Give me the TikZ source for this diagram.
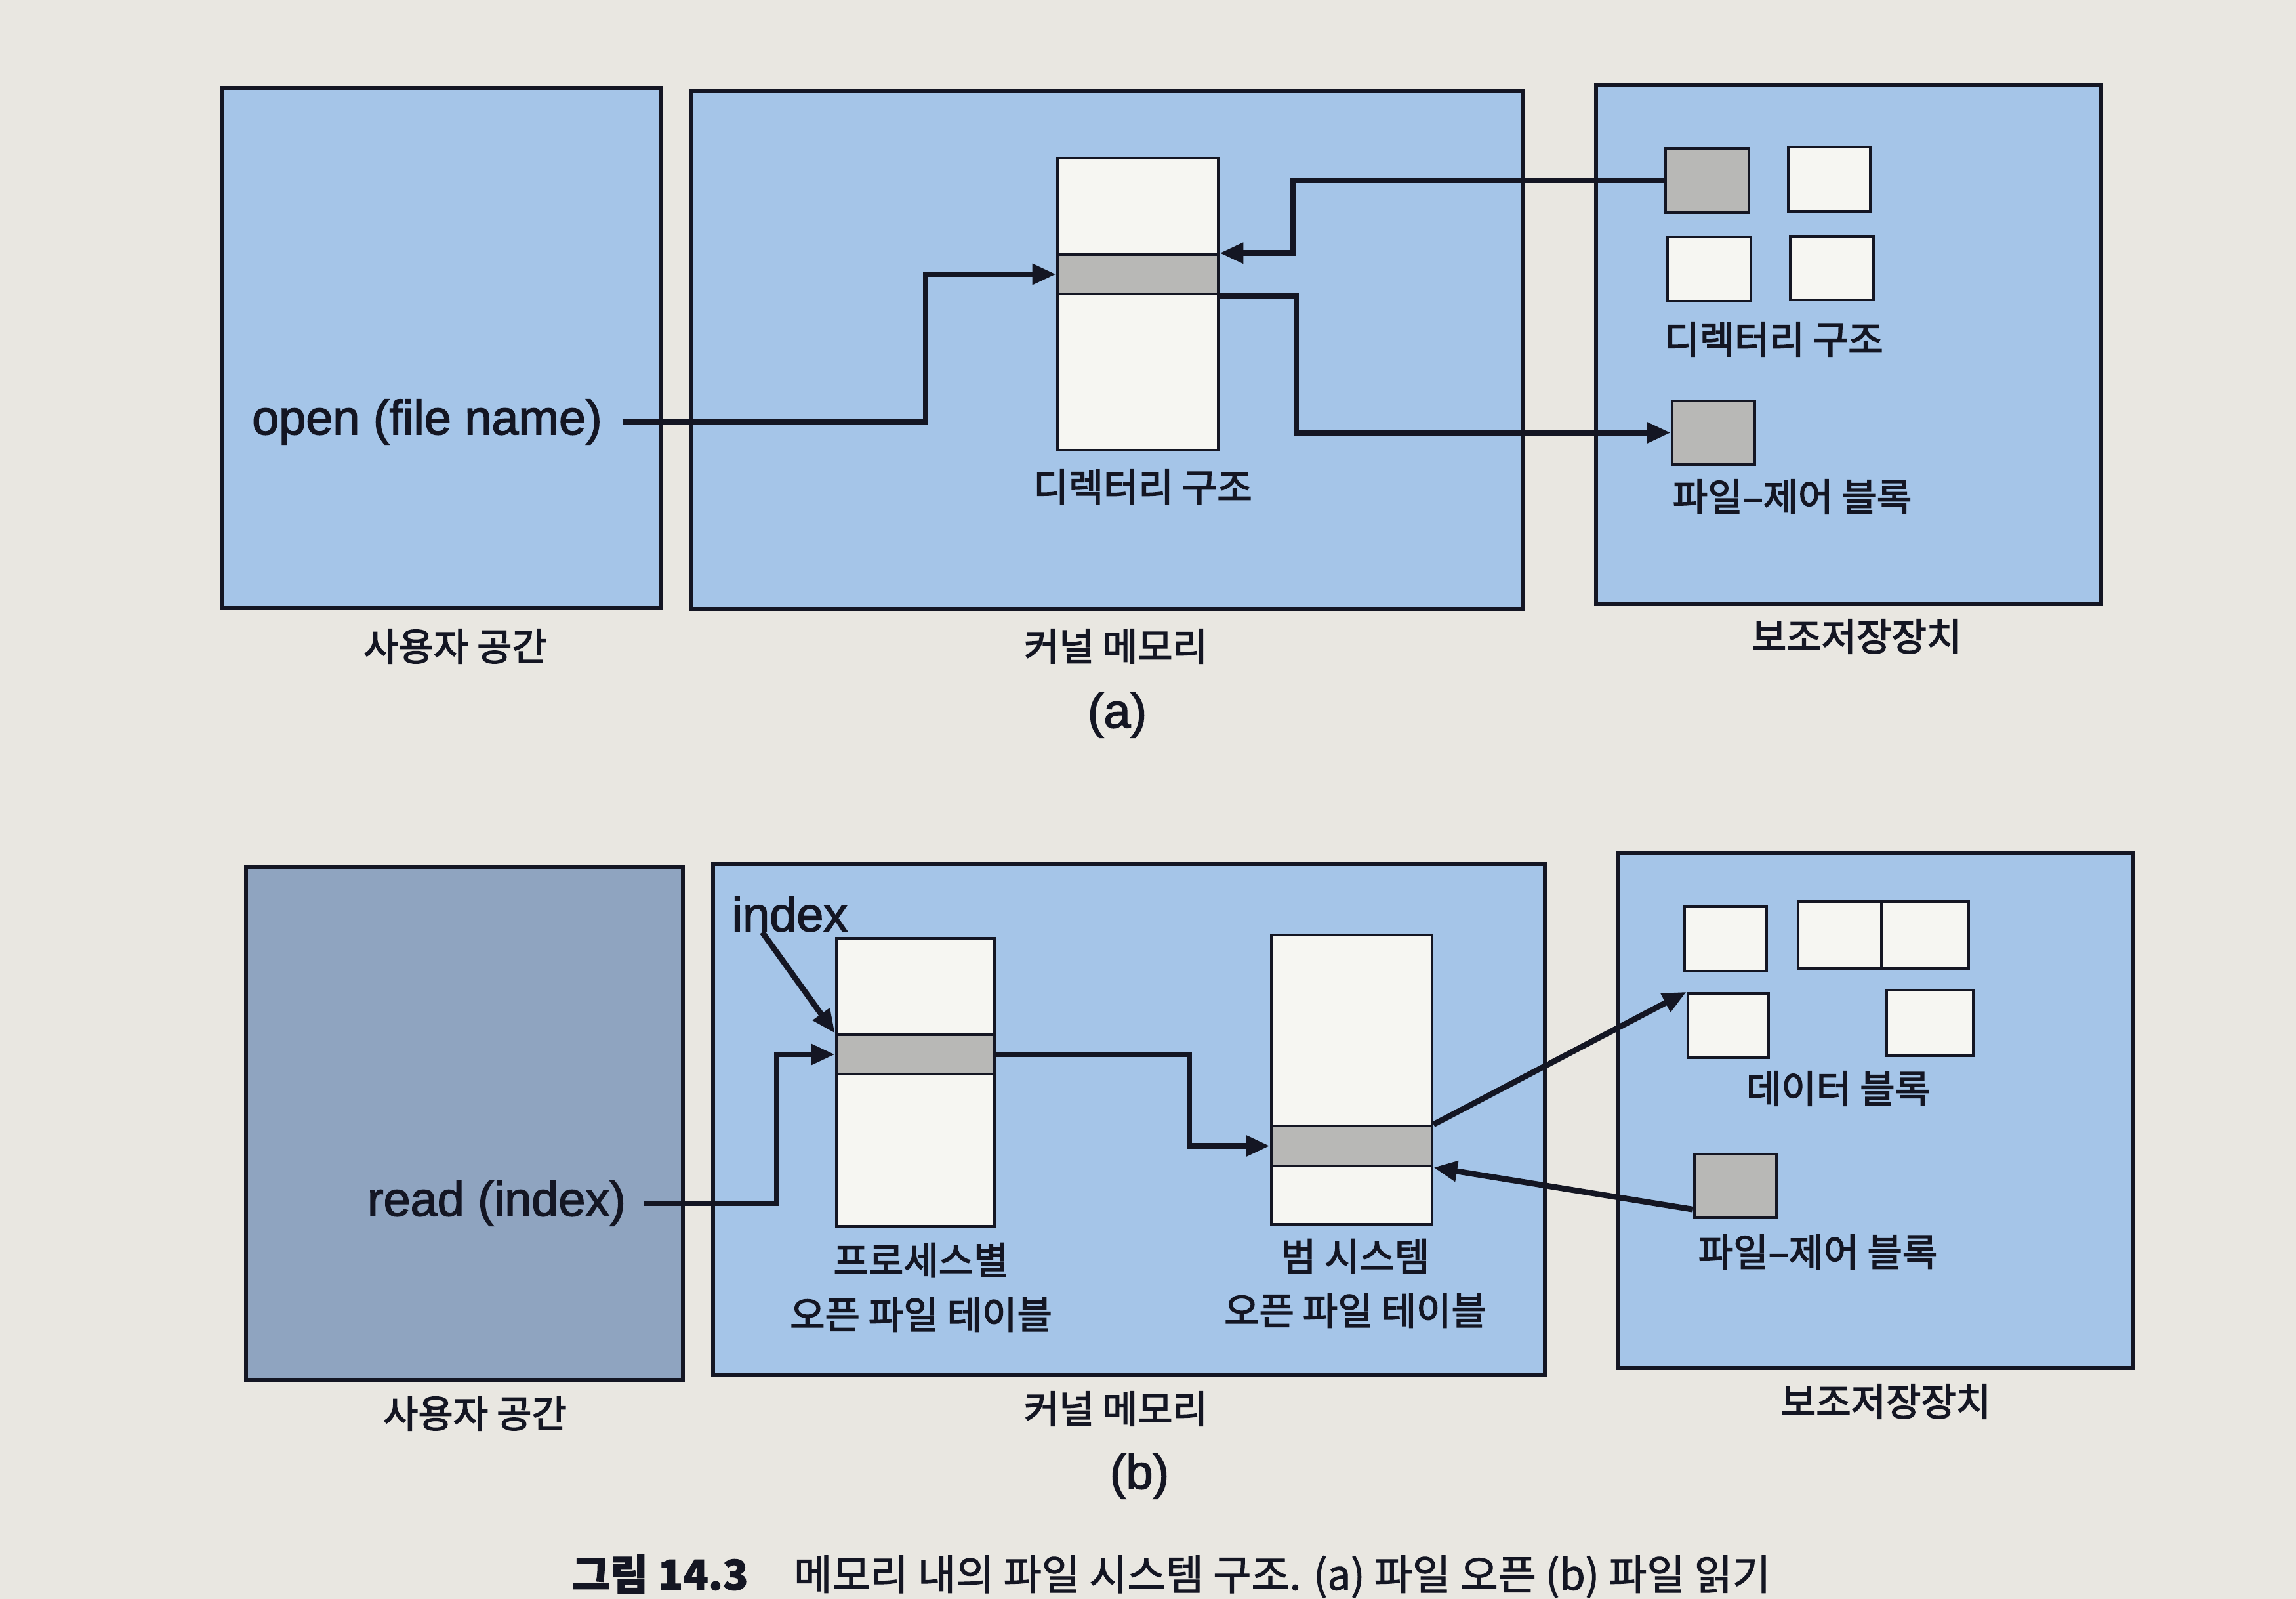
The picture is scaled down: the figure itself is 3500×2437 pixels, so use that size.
\documentclass[tikz,border=0pt]{standalone}
\usepackage{fontspec}
\setmainfont{Liberation Sans}
\newfontfamily\kr[FakeBold=2.6]{Noto Sans CJK KR}
\newfontfamily\krcap[FakeBold=1.6]{Noto Sans CJK KR}
\newfontfamily\enf[FakeBold=2.0]{Liberation Sans}
\usetikzlibrary{arrows.meta,fit}
\definecolor{pagebg}{RGB}{233,231,225}
\definecolor{boxblue}{RGB}{165,197,232}
\definecolor{boxbluedark}{RGB}{143,164,192}
\definecolor{cellwhite}{RGB}{246,246,242}
\definecolor{cellgray}{RGB}{184,184,182}
\definecolor{ink}{RGB}{20,22,35}
\begin{document}
\begin{tikzpicture}[x=0.01cm,y=-0.01cm,
  region/.style={draw=ink,line width=1.6pt,fill=boxblue,rectangle,inner sep=0pt},
  whitecell/.style={draw=ink,line width=1.3pt,fill=cellwhite,rectangle,inner sep=0pt},
  graycell/.style={draw=ink,line width=1.3pt,fill=cellgray,rectangle,inner sep=0pt},
  krlabel/.style={inner sep=0pt,text=ink,font=\kr\fontsize{16.5}{23.5}\selectfont,align=center},
  enlabel/.style={inner sep=0pt,text=ink,font=\enf\fontsize{21}{25}\selectfont},
  arr/.style={draw=ink,line width=2.5pt,line join=miter,-{Triangle[length=0.36cm,width=0.3cm]}}
]
\useasboundingbox (0,0) rectangle (3500,2437);
\fill[pagebg] (0,0) rectangle (3500,2437);

% ---------------- (a) ----------------
\node[region, fit={(339,134) (1008,927)}] (ua) {};
\node[region, fit={(1054,138) (2322,928)}] (ka) {};
\node[region, fit={(2433,130) (3203,921)}] (sa) {};

\node[whitecell, fit={(1612,241) (1857,686)}] (colA) {};
\node[graycell, fit={(1612,388) (1857,448)}] (bandA) {};

\node[graycell, fit={(2539,226) (2666,324)}] (dsq1) {};
\node[whitecell, fit={(2726,224) (2851,322)}] (dsq2) {};
\node[whitecell, fit={(2542,361) (2669,459)}] (dsq3) {};
\node[whitecell, fit={(2729,360) (2856,457)}] (dsq4) {};
\node[graycell, fit={(2549,611) (2675,708)}] (fcbA) {};

\node[enlabel] (opentxt) at (651,643) {open (file name)};
\node[krlabel] (ldirk) at (1742,742) {디렉터리 구조};
\node[krlabel] (ldirs) at (2704,517) {디렉터리 구조};
\node[krlabel] (lfcbA) at (2732,757) {파일–제어 블록};
\node[krlabel] (lua) at (694,985) {사용자 공간};
\node[krlabel] (lka) at (1701,985) {커널 메모리};
\node[krlabel] (lsa) at (2830,970) {보조저장장치};
\node[enlabel] (la) at (1703,1090) {(a)};

\draw[arr, shorten <=0.3cm] (opentxt.east) -| (1411,0 |- bandA.west) -- (bandA.west);
\draw[arr] (dsq1.west) -| (1971,0 |- bandA.north east) -- (bandA.north east);
\draw[arr] (bandA.south east) -| (1976,0 |- fcbA.west) -- (fcbA.west);

% ---------------- (b) ----------------
\node[region, fill=boxbluedark, fit={(375,1321) (1041,2103)}] (ub) {};
\node[region, fit={(1087,1317) (2355,2096)}] (kb) {};
\node[region, fit={(2467,1300) (3252,2085)}] (sb) {};

\node[whitecell, fit={(1275,1430) (1516,1869)}] (colP) {};
\node[graycell, fit={(1275,1577) (1516,1637)}] (bandP) {};
\node[whitecell, fit={(1938,1425) (2183,1866)}] (colS) {};
\node[graycell, fit={(1938,1716) (2183,1777)}] (bandS) {};

\node[whitecell, fit={(2568,1382) (2693,1480)}] (dblk1) {};
\node[whitecell, fit={(2741,1374) (2868,1476)}] (dblk2) {};
\node[whitecell, fit={(2868,1374) (3001,1476)}] (dblk2b) {};
\node[whitecell, fit={(2573,1514) (2696,1612)}] (dblk3) {};
\node[whitecell, fit={(2876,1509) (3008,1609)}] (dblk4) {};
\node[graycell, fit={(2583,1759) (2708,1856)}] (fcbB) {};

\node[enlabel] (idxtxt) at (1204,1393) {index};
\node[enlabel] (readtxt) at (757,1834) {read (index)};
\node[krlabel] (lppt) at (1404,1962) {프로세스별\\오픈 파일 테이블};
\node[krlabel] (lsys) at (2066,1956) {범 시스템\\오픈 파일 테이블};
\node[krlabel] (ldata) at (2802,1659) {데이터 블록};
\node[krlabel] (lfcbB) at (2771,1908) {파일–제어 블록};
\node[krlabel] (lub) at (724,2154) {사용자 공간};
\node[krlabel] (lkb) at (1701,2147) {커널 메모리};
\node[krlabel] (lsb) at (2875,2136) {보조저장장치};
\node[enlabel] (lb) at (1737,2250) {(b)};

\draw[arr] ([xshift=-0.42cm]idxtxt.south) -- (bandP.north west);
\draw[arr, shorten <=0.27cm] (readtxt.east) -| (1184,0 |- bandP.west) -- (bandP.west);
\draw[arr] (bandP.east) -| (1813,0 |- bandS.west) -- (bandS.west);
\draw[arr] (bandS.north east) -- (dblk3.north west);
\draw[arr] ([yshift=0.15cm]fcbB.south west) -- (bandS.south east);

% ---------------- caption ----------------
\node[anchor=base west, inner sep=0pt, text=ink, font=\krcap\fontsize{18}{20}\selectfont] (caption) at (871,2423)
  {{\bfseries 그림 14.3}\hspace{1.1em}메모리 내의 파일 시스템 구조. (a) 파일 오픈 (b) 파일 읽기};
\end{tikzpicture}
\end{document}
